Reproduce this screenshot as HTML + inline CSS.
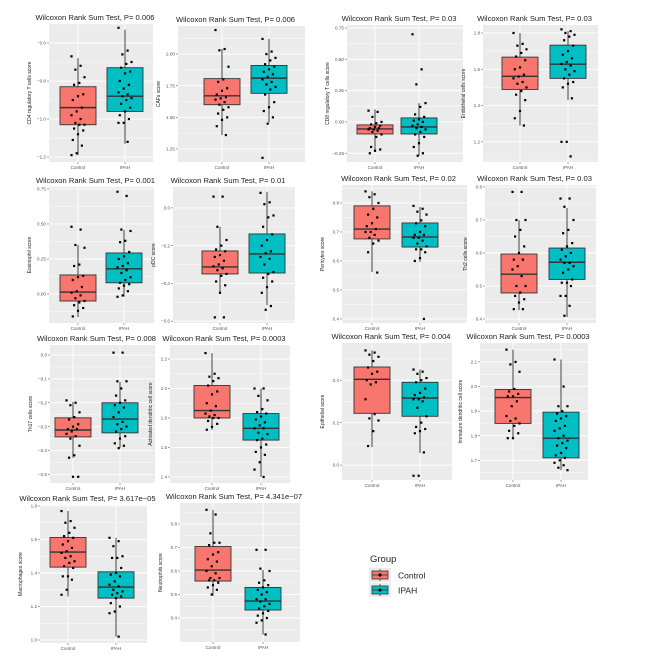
<!DOCTYPE html>
<html><head><meta charset="utf-8"><style>
html,body{margin:0;padding:0;background:#fff;}
svg{display:block;font-family:"Liberation Sans",sans-serif;}
</style></head><body>
<svg id="fig" width="649" height="667" viewBox="0 0 649 667" xmlns="http://www.w3.org/2000/svg"></svg>
<script>
// ---- data ----
const titles = ["P= 0.006","P= 0.006","P= 0.03","P=  0.03","P=  0.001","P= 0.01","P= 0.02","P= 0.03","P= 0.008","P= 0.0003","P=  0.004","P=  0.0003","P= 3.617e\u221205","P= 4.341e\u221207"];
const yLabels = ["CD4 regulatory T cells score","CAFs score","CD8 regulatory T cells score","Endothelial cells score","Eosinophil score","pDC score","Pericytes score","Th2 cells score","Th17 cells score","Activated dendritic cell score","Epithelial score","Immature dendritic cell score","Macrophages score","Neutrophils score"];
const groups = ["Control","IPAH"];
const tickValues = [[-1.2,-1.0,-0.8,-0.6],[1.25,1.5,1.75,2.0],[-0.25,0,0.25,0.5,0.75],[1.2,1.4,1.6,1.8],[0,0.25,0.5,0.75],[-0.6,-0.4,-0.2,0],[0.4,0.5,0.6,0.7,0.8],[0.4,0.5,0.6,0.7,0.8],[-0.5,-0.4,-0.3,-0.2,-0.1,0],[1.4,1.6,1.8,2.0,2.2],[0,0.2,0.4],[1.7,1.8,1.9,2.0,2.1],[1.0,1.2,1.4,1.6,1.8],[0.4,0.5,0.6,0.7,0.8]];
const tickDigits = [1,2,2,1,2,1,1,1,1,1,1,1,1,1];
// [lowerWhisker, Q1, median, Q3, upperWhisker]
const ctrlStats = [[-1.19,-1.03,-0.94,-0.83,-0.68],[1.36,1.60,1.67,1.806,2.04],[-0.24,-0.096,-0.056,-0.024,0.10],[1.29,1.489,1.561,1.667,1.80],[-0.164,-0.05,0.014,0.136,0.35],[-0.45,-0.35,-0.313,-0.228,-0.10],[0.562,0.676,0.71,0.79,0.84],[0.427,0.479,0.536,0.597,0.70],[-0.43,-0.343,-0.314,-0.263,-0.196],[1.72,1.80,1.85,2.02,2.24],[0.085,0.244,0.404,0.462,0.54],[1.79,1.85,1.955,1.988,2.15],[1.26,1.435,1.525,1.612,1.77],[0.494,0.557,0.604,0.704,0.86]];
const ipahStats = [[-1.13,-0.96,-0.88,-0.73,-0.53],[1.46,1.69,1.81,1.91,2.12],[-0.27,-0.096,-0.04,0.032,0.15],[1.43,1.55,1.628,1.733,1.81],[-0.02,0.08,0.18,0.293,0.457],[-0.515,-0.345,-0.244,-0.138,0.085],[0.597,0.648,0.683,0.731,0.786],[0.406,0.52,0.572,0.615,0.736],[-0.388,-0.326,-0.268,-0.20,-0.113],[1.40,1.65,1.73,1.83,2.0],[0.057,0.23,0.316,0.39,0.45],[1.66,1.71,1.79,1.896,2.11],[1.02,1.25,1.316,1.407,1.61],[0.33,0.434,0.472,0.53,0.604]];
const ctrlPoints = [
[-0.67,-0.72,-0.74,-0.78,-0.81,-0.82,-0.87,-0.88,-0.9,-0.94,-0.96,-0.98,-1.0,-1.02,-1.03,-1.03,-1.05,-1.06,-1.08,-1.11,-1.14,-1.18,-1.19],
[2.19,2.04,2.03,1.9,1.8,1.78,1.73,1.71,1.68,1.66,1.65,1.64,1.62,1.6,1.58,1.56,1.53,1.5,1.48,1.43,1.36],
[0.09,0.08,0.04,0.0,-0.01,-0.02,-0.03,-0.04,-0.05,-0.05,-0.06,-0.06,-0.07,-0.08,-0.1,-0.12,-0.2,-0.22,-0.23,-0.25],
[1.8,1.74,1.73,1.71,1.69,1.67,1.65,1.61,1.6,1.57,1.56,1.55,1.53,1.52,1.5,1.48,1.46,1.43,1.37,1.33,1.29],
[0.48,0.46,0.35,0.33,0.21,0.2,0.13,0.12,0.1,0.05,0.02,0.01,-0.01,-0.03,-0.05,-0.06,-0.08,-0.1,-0.12,-0.16],
[0.06,0.06,-0.1,-0.17,-0.2,-0.22,-0.23,-0.25,-0.26,-0.28,-0.3,-0.31,-0.32,-0.33,-0.35,-0.36,-0.39,-0.41,-0.45,-0.58,-0.58],
[0.84,0.83,0.82,0.8,0.78,0.76,0.75,0.73,0.72,0.71,0.7,0.7,0.69,0.68,0.67,0.66,0.63,0.56],
[0.785,0.785,0.70,0.70,0.67,0.65,0.62,0.6,0.58,0.58,0.56,0.55,0.53,0.5,0.5,0.48,0.47,0.46,0.45,0.43,0.43],
[-0.19,-0.2,-0.21,-0.24,-0.26,-0.27,-0.29,-0.3,-0.31,-0.31,-0.32,-0.33,-0.34,-0.35,-0.38,-0.42,-0.43,-0.51,-0.51],
[2.24,2.1,2.08,2.07,2.05,2.02,1.98,1.96,1.9,1.88,1.85,1.83,1.82,1.81,1.8,1.8,1.78,1.76,1.74,1.72],
[0.54,0.53,0.52,0.51,0.49,0.46,0.44,0.43,0.4,0.39,0.38,0.31,0.24,0.22,0.21,0.16,0.09],
[2.15,2.1,2.09,2.06,1.99,1.98,1.97,1.96,1.96,1.94,1.92,1.88,1.87,1.86,1.85,1.84,1.82,1.81,1.79,1.79],
[1.77,1.71,1.7,1.67,1.64,1.62,1.61,1.59,1.57,1.55,1.53,1.52,1.5,1.49,1.47,1.46,1.44,1.43,1.38,1.38,1.36,1.3,1.27],
[0.86,0.84,0.76,0.72,0.72,0.71,0.68,0.67,0.65,0.64,0.62,0.6,0.59,0.57,0.57,0.56,0.56,0.55,0.54,0.53,0.52,0.5]];
const ipahPoints = [
[-0.52,-0.64,-0.66,-0.7,-0.71,-0.73,-0.75,-0.76,-0.8,-0.82,-0.84,-0.86,-0.87,-0.88,-0.89,-0.9,-0.92,-0.94,-0.96,-0.98,-1.0,-1.02,-1.02,-1.12],
[2.12,2.02,2.0,1.97,1.95,1.92,1.9,1.88,1.86,1.84,1.82,1.8,1.78,1.76,1.74,1.72,1.68,1.62,1.58,1.55,1.5,1.45,1.18],
[0.70,0.42,0.30,0.15,0.12,0.06,0.04,0.02,0.01,0.0,-0.02,-0.03,-0.04,-0.05,-0.06,-0.08,-0.1,-0.12,-0.17,-0.2,-0.25,-0.27],
[1.82,1.81,1.8,1.79,1.78,1.76,1.73,1.7,1.68,1.66,1.64,1.63,1.62,1.6,1.59,1.57,1.55,1.53,1.52,1.5,1.44,1.2,1.2,1.12],
[0.73,0.7,0.46,0.45,0.38,0.37,0.3,0.27,0.25,0.22,0.2,0.19,0.17,0.15,0.12,0.1,0.08,0.07,0.06,0.04,0.02,-0.01,-0.02],
[0.08,0.03,0.02,-0.04,-0.05,-0.1,-0.14,-0.17,-0.2,-0.23,-0.24,-0.26,-0.27,-0.3,-0.34,-0.35,-0.37,-0.39,-0.42,-0.45,-0.52,-0.54],
[0.79,0.78,0.77,0.76,0.74,0.73,0.72,0.7,0.69,0.69,0.68,0.68,0.67,0.66,0.65,0.64,0.64,0.63,0.61,0.6,0.4],
[0.765,0.765,0.74,0.70,0.67,0.66,0.63,0.62,0.61,0.6,0.59,0.58,0.57,0.57,0.56,0.55,0.54,0.52,0.51,0.51,0.5,0.47,0.47,0.44,0.41],
[0.01,0.01,-0.11,-0.11,-0.14,-0.17,-0.19,-0.2,-0.21,-0.22,-0.24,-0.26,-0.28,-0.29,-0.3,-0.31,-0.32,-0.34,-0.35,-0.37,-0.38,-0.39],
[2.0,2.0,1.95,1.92,1.86,1.84,1.83,1.81,1.79,1.77,1.75,1.73,1.73,1.7,1.69,1.66,1.65,1.62,1.6,1.57,1.55,1.5,1.45,1.4],
[0.45,0.44,0.43,0.41,0.4,0.39,0.36,0.34,0.33,0.32,0.31,0.31,0.3,0.27,0.23,0.2,0.18,0.17,0.16,0.15,0.06,-0.05,-0.05],
[2.11,2.0,1.92,1.92,1.9,1.89,1.88,1.87,1.86,1.84,1.83,1.82,1.8,1.79,1.78,1.77,1.76,1.75,1.73,1.72,1.71,1.7,1.69,1.68,1.67,1.66],
[1.61,1.59,1.56,1.5,1.49,1.49,1.43,1.4,1.39,1.38,1.35,1.33,1.32,1.3,1.29,1.28,1.27,1.26,1.25,1.22,1.2,1.17,1.16,1.02],
[0.69,0.69,0.61,0.6,0.56,0.55,0.54,0.53,0.52,0.51,0.5,0.48,0.48,0.47,0.46,0.45,0.44,0.43,0.42,0.41,0.4,0.39,0.38,0.33]];
// y-axis domain [value at bottom, value at top]
const domainLo = [-1.226,1.147,-0.32,1.089,-0.207,-0.61,0.386,0.388,-0.536,1.359,-0.07,1.62,0.982,0.298];
const domainHi = [-0.50,2.222,0.774,1.844,0.764,0.111,0.862,0.806,0.042,2.295,0.575,2.177,1.806,0.889];

// ---- layout (pixels) ----
const plotX0 = [49,178,347,483,49,173,342,485,50,170,342,480,40,180];
const plotX1 = [153,305,463,598,154,295,467,596,155,290,452,588,147,300];
const plotY0 = [24,26,25,25,187,187,185,185,345,345,343,343,505,503];
const plotY1 = [162,162,162,162,323,323,323,323,483,483,480,480,643,642];
const ctrlX = [78,222,375,520,78,220,372,519,73,212,372,513,68,213];
const ipahX = [125,269,419,568,124,267,420,567,120,261,420,561,116,263];

const NS = "http://www.w3.org/2000/svg";
const svg = document.getElementById('fig');
function mk(tag, attrs, parent){
  const e = document.createElementNS(NS, tag);
  for (const k in attrs) e.setAttribute(k, attrs[k]);
  (parent||svg).appendChild(e);
  return e;
}
const RED = "#F8766D", TEAL = "#00BFC4";

for (let p = 0; p < titles.length; p++) {
  const g = mk('g', {});
  
  
  const x0 = plotX0[p], x1 = plotX1[p], y0 = plotY0[p], y1 = plotY1[p];
  const lo = domainLo[p], hi = domainHi[p];
  const yS = v => y1 - (v - lo) / (hi - lo) * (y1 - y0);
  const bg = mk('rect', {x:x0, y:y0, width:x1-x0, height:y1-y0, fill:'#EBEBEB'}, g);
  
  
  // grid
  const tv = tickValues[p];
  const step = tv[1] - tv[0];
  for (let i = -1; i < tv.length; i++) {
    const mv = tv[0] + step * (i + 0.5);
    const my = yS(mv);
    if (my > y0 && my < y1) mk('line', {x1:x0, x2:x1, y1:my, y2:my, stroke:'#fff', 'stroke-width':0.4}, g);
  }
  tv.forEach(v => {
    const ty = yS(v);
    mk('line', {x1:x0, x2:x1, y1:ty, y2:ty, stroke:'#fff', 'stroke-width':0.9}, g);
    mk('line', {x1:x0-2, x2:x0, y1:ty, y2:ty, stroke:'#444', 'stroke-width':0.5}, g);
    const t = mk('text', {x:x0-3, y:ty+1.6, 'font-size':4.6, fill:'#555', 'text-anchor':'end'}, g);
    t.textContent = v.toFixed(tickDigits[p]).replace('-', '\u2212');
    
    
  });
  const cx = [ctrlX[p], ipahX[p]];
  cx.forEach((x, gi) => {
    mk('line', {x1:x, x2:x, y1:y0, y2:y1, stroke:'#fff', 'stroke-width':0.9}, g);
    mk('line', {x1:x, x2:x, y1:y1, y2:y1+2, stroke:'#444', 'stroke-width':0.5}, g);
    const t = mk('text', {x:x, y:y1+7, 'font-size':4.6, fill:'#555', 'text-anchor':'middle'}, g);
    t.textContent = groups[gi];
    
    
  });
  // boxes
  const stats = [ctrlStats[p], ipahStats[p]];
  const pts = [ctrlPoints[p], ipahPoints[p]];
  const hw = 18;
  stats.forEach((s, gi) => {
    const x = cx[gi];
    const wh = mk('line', {x1:x, x2:x, y1:yS(s[0]), y2:yS(s[4]), stroke:'#333', 'stroke-width':0.9}, g);
    
    
    const b = mk('rect', {x:x-hw, y:yS(s[3]), width:2*hw, height:yS(s[1])-yS(s[3]), fill:gi?TEAL:RED, stroke:'#333', 'stroke-width':0.9}, g);
    
    
    const m = mk('line', {x1:x-hw, x2:x+hw, y1:yS(s[2]), y2:yS(s[2]), stroke:'#333', 'stroke-width':1.4}, g);
    
    
  });
  pts.forEach((arr, gi) => {
    arr.forEach((v, i) => {
      const jx = cx[gi] + (((i * 7) % 11) - 5) * 1.3;
      const c = mk('rect', {x:jx-1.1, y:yS(v)-1.1, width:2.2, height:2.2, fill:'#000'}, g);
      
      
    });
  });
  // title
  const tt = mk('text', {x:(x0+x1)/2 - 6, y:y0-4, 'font-size':7.6, fill:'#222', 'text-anchor':'middle'}, g);
  tt.textContent = 'Wilcoxon Rank Sum Test, ' + titles[p];
  
  
  const yl = mk('text', {x:0, y:0, 'font-size':5, fill:'#222', 'text-anchor':'middle', transform:'translate(' + (x0-18) + ',' + ((y0+y1)/2) + ') rotate(-90)'}, g);
  yl.textContent = yLabels[p];
  
  
}

// legend
const lg = mk('g', {});


const lt = mk('text', {x:370, y:562, 'font-size':9.5, fill:'#222'}, lg);
lt.textContent = 'Group';


groups.forEach((name, i) => {
  const y = 568 + i * 15;
  const e = mk('g', {}, lg);
  
  
  mk('rect', {x:369, y:y, width:22, height:14, fill:'#EBEBEB'}, e);
  mk('line', {x1:380, x2:380, y1:y+1, y2:y+13, stroke:'#333', 'stroke-width':0.8}, e);
  mk('rect', {x:372, y:y+3, width:16, height:8, fill:i?TEAL:RED, stroke:'#333', 'stroke-width':0.8}, e);
  mk('line', {x1:372, x2:388, y1:y+7, y2:y+7, stroke:'#333', 'stroke-width':0.8}, e);
  mk('circle', {cx:380, cy:y+7, r:1.6, fill:'#000'}, e);
  const t = mk('text', {x:398, y:y+10.5, 'font-size':8.5, fill:'#222'}, e);
  t.textContent = name;
});
</script>
</body></html>
